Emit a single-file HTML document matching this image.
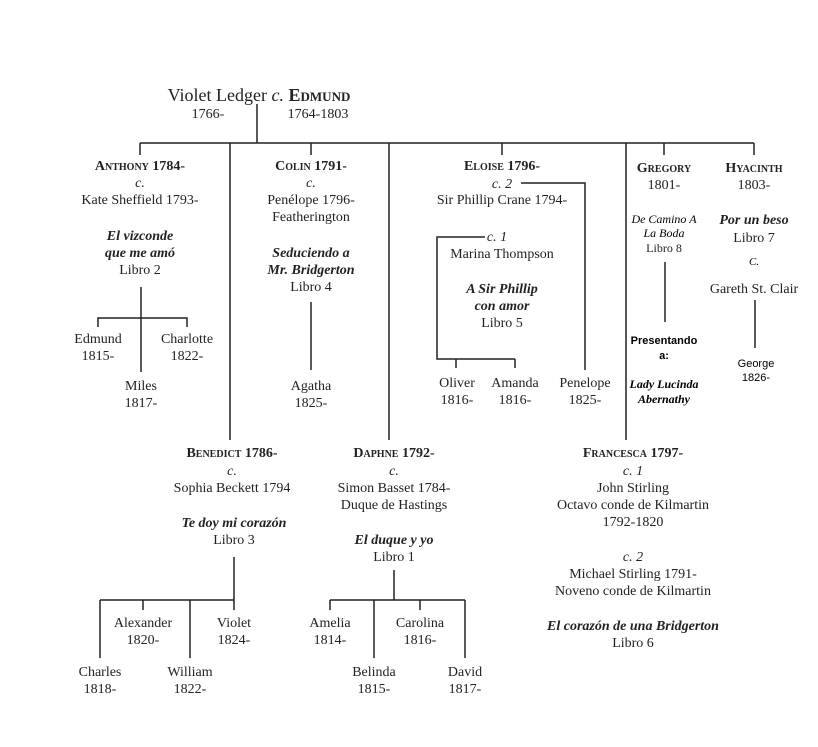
<!DOCTYPE html>
<html><head><meta charset="utf-8"><style>
html,body{margin:0;padding:0;background:#fff;width:818px;height:747px;overflow:hidden}
svg{display:block}
text{font-family:"Liberation Serif",serif;font-size:14px;fill:#222;text-anchor:middle}
.i{font-style:italic;font-weight:bold}
.sc{font-variant:small-caps;font-weight:bold}
.a{font-family:"Liberation Sans",sans-serif;font-size:11px;fill:#000}
.ai{font-family:"Liberation Serif",serif;font-style:italic;font-size:12px;fill:#000}
line,polyline{stroke:#222;stroke-width:1.5;fill:none}
</style></head><body>
<svg width="818" height="747" viewBox="0 0 818 747">
<!-- top -->
<text x="259" y="101" style="font-size:18px">Violet Ledger <tspan font-style="italic">c.</tspan> <tspan class="sc">Edmund</tspan></text>
<text x="208" y="118">1766-</text>
<text x="318" y="118">1764-1803</text>
<line x1="257" y1="104" x2="257" y2="143"/>
<line x1="140" y1="143" x2="754" y2="143"/>
<line x1="140" y1="143" x2="140" y2="155"/>
<line x1="311" y1="143" x2="311" y2="155"/>
<line x1="502" y1="143" x2="502" y2="155"/>
<line x1="664" y1="143" x2="664" y2="155"/>
<line x1="754" y1="143" x2="754" y2="155"/>
<line x1="230" y1="143" x2="230" y2="440"/>
<line x1="389" y1="143" x2="389" y2="440"/>
<line x1="626" y1="143" x2="626" y2="440"/>

<!-- Anthony -->
<text x="140" y="170" class="sc">Anthony 1784-</text>
<text x="140" y="187" font-style="italic">c.</text>
<text x="140" y="204">Kate Sheffield 1793-</text>
<text x="140" y="240" class="i">El vizconde</text>
<text x="140" y="257" class="i">que me amó</text>
<text x="140" y="274">Libro 2</text>
<line x1="141" y1="287" x2="141" y2="372"/>
<polyline points="98,327 98,318 187,318 187,327"/>
<text x="98" y="343">Edmund</text><text x="98" y="360">1815-</text>
<text x="187" y="343">Charlotte</text><text x="187" y="360">1822-</text>
<text x="141" y="390">Miles</text><text x="141" y="407">1817-</text>

<!-- Colin -->
<text x="311" y="170" class="sc">Colin 1791-</text>
<text x="311" y="187" font-style="italic">c.</text>
<text x="311" y="204">Penélope 1796-</text>
<text x="311" y="221">Featherington</text>
<text x="311" y="257" class="i">Seduciendo a</text>
<text x="311" y="274" class="i">Mr. Bridgerton</text>
<text x="311" y="291">Libro 4</text>
<line x1="311" y1="302" x2="311" y2="370"/>
<text x="311" y="390">Agatha</text><text x="311" y="407">1825-</text>

<!-- Eloise -->
<text x="502" y="170" class="sc">Eloise 1796-</text>
<text x="502" y="188" font-style="italic">c. 2</text>
<polyline points="521,183 585,183 585,370"/>
<text x="502" y="204">Sir Phillip Crane 1794-</text>
<polyline points="485,237 437,237 437,359 515,359"/>
<line x1="456" y1="359" x2="456" y2="368"/>
<line x1="515" y1="359" x2="515" y2="368"/>
<text x="497" y="241" font-style="italic">c. 1</text>
<text x="502" y="258">Marina Thompson</text>
<text x="502" y="293" class="i">A Sir Phillip</text>
<text x="502" y="310" class="i">con amor</text>
<text x="502" y="327">Libro 5</text>
<text x="457" y="387">Oliver</text><text x="457" y="404">1816-</text>
<text x="515" y="387">Amanda</text><text x="515" y="404">1816-</text>
<text x="585" y="387">Penelope</text><text x="585" y="404">1825-</text>

<!-- Gregory -->
<text x="664" y="172" class="sc">Gregory</text>
<text x="664" y="189">1801-</text>
<text x="664" y="223" class="ai">De Camino A</text>
<text x="664" y="237" class="ai">La Boda</text>
<text x="664" y="252" style="font-size:12px">Libro 8</text>
<line x1="665" y1="262" x2="665" y2="322"/>
<text x="664" y="344" class="a" font-weight="bold">Presentando</text>
<text x="664" y="359" class="a" font-weight="bold">a:</text>
<text x="664" y="388" class="ai" font-weight="bold">Lady Lucinda</text>
<text x="664" y="403" class="ai" font-weight="bold">Abernathy</text>

<!-- Hyacinth -->
<text x="754" y="172" class="sc">Hyacinth</text>
<text x="754" y="189">1803-</text>
<text x="754" y="224" class="i">Por un beso</text>
<text x="754" y="242">Libro 7</text>
<text x="754" y="265" class="ai" style="font-size:11px">C.</text>
<text x="754" y="293">Gareth St. Clair</text>
<line x1="755" y1="300" x2="755" y2="348"/>
<text x="756" y="367" class="a">George</text>
<text x="756" y="381" class="a">1826-</text>

<!-- Benedict -->
<text x="232" y="457" class="sc">Benedict 1786-</text>
<text x="232" y="475" font-style="italic">c.</text>
<text x="232" y="492">Sophia Beckett 1794</text>
<text x="234" y="527" class="i">Te doy mi corazón</text>
<text x="234" y="544">Libro 3</text>
<line x1="234" y1="557" x2="234" y2="610"/>
<line x1="100" y1="600" x2="234" y2="600"/>
<line x1="100" y1="600" x2="100" y2="658"/>
<line x1="143" y1="600" x2="143" y2="610"/>
<line x1="190" y1="600" x2="190" y2="658"/>
<text x="143" y="627">Alexander</text><text x="143" y="644">1820-</text>
<text x="234" y="627">Violet</text><text x="234" y="644">1824-</text>
<text x="100" y="676">Charles</text><text x="100" y="693">1818-</text>
<text x="190" y="676">William</text><text x="190" y="693">1822-</text>

<!-- Daphne -->
<text x="394" y="457" class="sc">Daphne 1792-</text>
<text x="394" y="475" font-style="italic">c.</text>
<text x="394" y="492">Simon Basset 1784-</text>
<text x="394" y="509">Duque de Hastings</text>
<text x="394" y="544" class="i">El duque y yo</text>
<text x="394" y="561">Libro 1</text>
<line x1="394" y1="570" x2="394" y2="600"/>
<line x1="330" y1="600" x2="465" y2="600"/>
<line x1="330" y1="600" x2="330" y2="610"/>
<line x1="420" y1="600" x2="420" y2="610"/>
<line x1="374" y1="600" x2="374" y2="658"/>
<line x1="465" y1="600" x2="465" y2="658"/>
<text x="330" y="627">Amelia</text><text x="330" y="644">1814-</text>
<text x="420" y="627">Carolina</text><text x="420" y="644">1816-</text>
<text x="374" y="676">Belinda</text><text x="374" y="693">1815-</text>
<text x="465" y="676">David</text><text x="465" y="693">1817-</text>

<!-- Francesca -->
<text x="633" y="457" class="sc">Francesca 1797-</text>
<text x="633" y="475" font-style="italic">c. 1</text>
<text x="633" y="492">John Stirling</text>
<text x="633" y="509">Octavo conde de Kilmartin</text>
<text x="633" y="526">1792-1820</text>
<text x="633" y="561" font-style="italic">c. 2</text>
<text x="633" y="578">Michael Stirling 1791-</text>
<text x="633" y="595">Noveno conde de Kilmartin</text>
<text x="633" y="630" class="i">El corazón de una Bridgerton</text>
<text x="633" y="647">Libro 6</text>
</svg>
</body></html>
